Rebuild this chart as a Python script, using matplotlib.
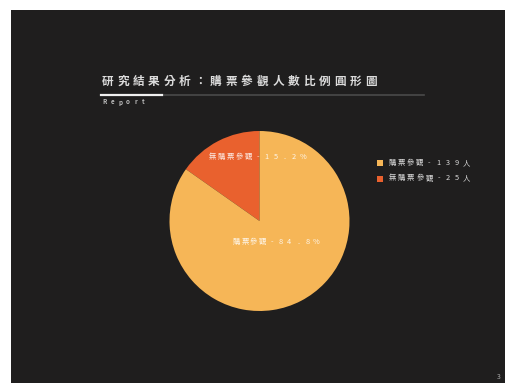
import matplotlib
matplotlib.use("Agg")
import matplotlib.pyplot as plt
from matplotlib.patches import Rectangle

plt.rcParams['font.family'] = ['Noto Sans CJK TC', 'DejaVu Sans']

# ---- data ----
title = "研究結果分析：購票參觀人數比例圓形圖"
subtitle = "Report"
categories = ["無購票參觀", "購票參觀"]
counts = [25, 139]
percents = [15.2, 84.8]
colors = ["#E9612E", "#F6B657"]
legend_order = [1, 0]
page_number = "3"

W, H = 506, 383
fig = plt.figure(figsize=(W / 100, H / 100), dpi=100, facecolor="white")

BG = "#1f1e1e"
bg = Rectangle((11 / W, 0), 1 - 11 / W, 1 - 10 / H,
               transform=fig.transFigure, facecolor=BG,
               edgecolor="none", zorder=-10)
fig.add_artist(bg)


def fx(x):
    return x / W


def fy(y):
    return 1 - y / H


def spaced(x0, y, s, step, size, color, alpha=1.0, weight="normal"):
    for i, ch in enumerate(s):
        fig.text(fx(x0 + i * step), fy(y), ch, fontsize=size, color=color,
                 alpha=alpha, ha="center", va="center", weight=weight,
                 zorder=5)


# title
spaced(107.5, 81, title, 15.5, 8.4, "#dcdcdc", weight="bold")
# underline
fig.add_artist(plt.Line2D([fx(101), fx(424)], [fy(94.5), fy(94.5)],
                          transform=fig.transFigure, color="#4a4a4a", lw=1.2))
fig.add_artist(plt.Line2D([fx(101), fx(162)], [fy(94.5), fy(94.5)],
                          transform=fig.transFigure, color="#f0f0f0", lw=1.6))
spaced(105, 102, subtitle, 7.6, 4.5, "#bbbbbb", weight="bold")

# pie
cx, cy, r = 259.5, 221, 90
ax = fig.add_axes([fx(cx - r), fy(cy + r), 2 * r / W, 2 * r / H], zorder=1)
ax.set_facecolor("none")
ax.pie(counts, colors=colors, startangle=90, counterclock=True,
       wedgeprops=dict(linewidth=0))
ax.set_xlim(-1, 1)
ax.set_ylim(-1, 1)
ax.set_aspect("equal")
ax.axis("off")

# slice labels
lab0 = f"{categories[0]}-{percents[0]}%"
lab1 = f"{categories[1]}-{percents[1]}%"
spaced(212, 157, lab0, 9.1, 5.3, "white", alpha=0.88)
spaced(236, 242, lab1, 8.9, 5.3, "white", alpha=0.88)

# legend
for row, idx in enumerate(legend_order):
    yy = 163 + row * 15.5
    fig.add_artist(Rectangle((fx(377), fy(yy + 3)), 6 / W, 6 / H,
                             transform=fig.transFigure,
                             facecolor=colors[idx], edgecolor="none", zorder=5))
    spaced(392, yy, f"{categories[idx]}-{counts[idx]}人", 9.3, 5.3, "#dddddd")

# page number
fig.text(fx(499), fy(377), page_number, fontsize=5, color="#aaaaaa",
         ha="center", va="center")

fig.savefig("out.png", dpi=100, facecolor="white")
